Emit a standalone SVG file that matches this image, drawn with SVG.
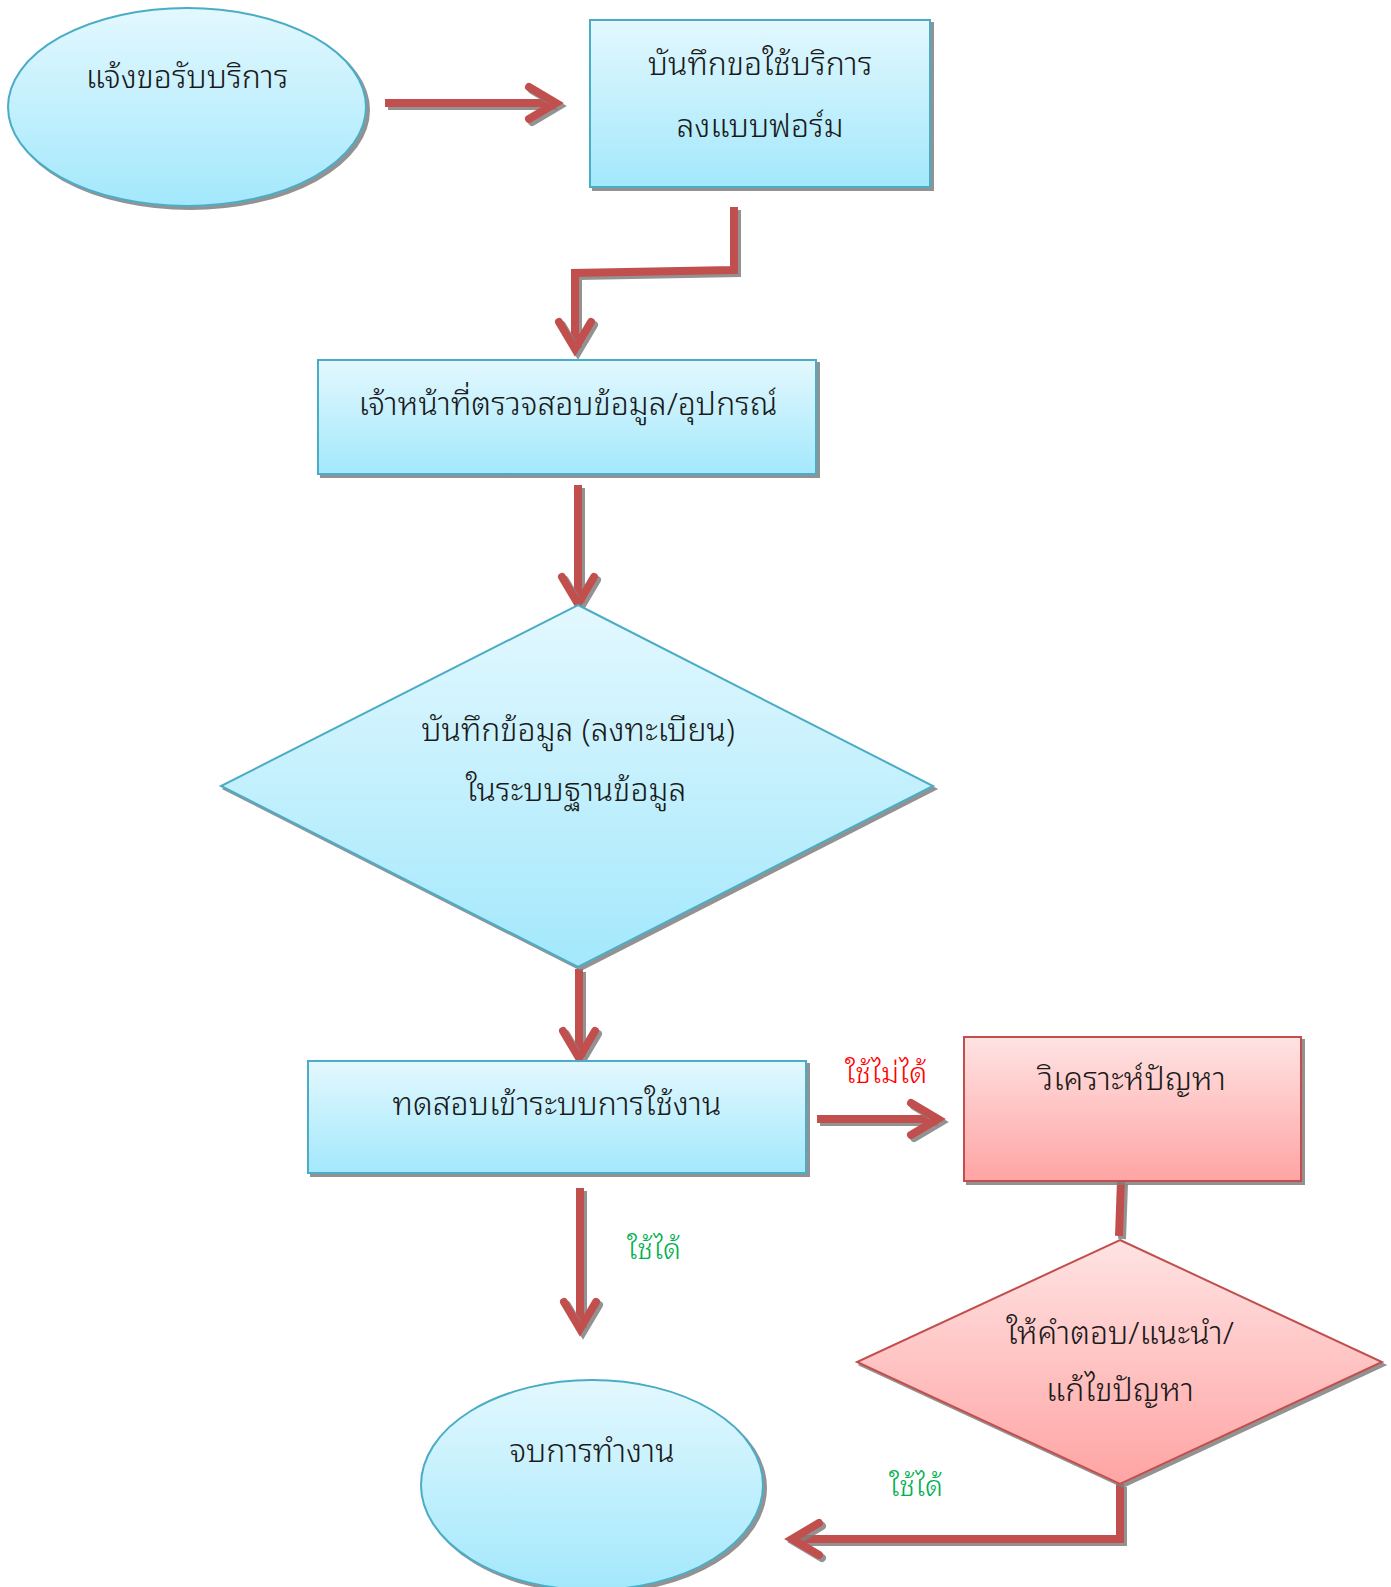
<svg xmlns="http://www.w3.org/2000/svg" width="1391" height="1587" viewBox="0 0 1391 1587">
<defs>
<linearGradient id="gb" x1="0" y1="0" x2="0" y2="1"><stop offset="0" stop-color="#e3f8fe"/><stop offset="1" stop-color="#a3e8fc"/></linearGradient>
<linearGradient id="gp" x1="0" y1="0" x2="0" y2="1"><stop offset="0" stop-color="#ffe3e3"/><stop offset="1" stop-color="#ffa4a4"/></linearGradient>
<filter id="sh" filterUnits="userSpaceOnUse" x="0" y="0" width="1391" height="1587"><feDropShadow dx="3" dy="3" stdDeviation="0.6" flood-color="#7f7f7f" flood-opacity="0.85"/></filter>
<style>
.b{fill:url(#gb);stroke:#4bacc6;stroke-width:2;filter:url(#sh)}
.p{fill:url(#gp);stroke:#c0504d;stroke-width:2;filter:url(#sh)}
.t{font-family:"Noto Sans Thai Looped","Noto Sans Thai","Noto Sans","DejaVu Sans",sans-serif;font-size:32px;font-weight:300;fill:#1a1a1a;text-anchor:middle}
.c{fill:none;stroke:#c0504d;stroke-width:8;filter:url(#sh)}
.h{fill:none;stroke:#c0504d;stroke-width:8;stroke-linecap:round;stroke-linejoin:miter;filter:url(#sh)}
.g{font-family:"Noto Sans Thai Looped","Noto Sans Thai","Noto Sans","DejaVu Sans",sans-serif;font-size:29px;font-weight:300;fill:#00b050;text-anchor:middle}
.r{font-family:"Noto Sans Thai Looped","Noto Sans Thai","Noto Sans","DejaVu Sans",sans-serif;font-size:29px;font-weight:300;fill:#ff0000;text-anchor:middle}
</style>
</defs>
<g id="connectors">
<path class="c" d="M385 103H554"/><path class="h" d="M529 87L556 103L529 119"/>
<path class="c" d="M734 207V270L575 273V345"/><path class="h" d="M559 322L575 349L591 322"/>
<path class="c" d="M578 485V600"/><path class="h" d="M562 577L578 604L594 577"/>
<path class="c" d="M579 969V1054"/><path class="h" d="M563 1031L579 1058L595 1031"/>
<path class="c" d="M817 1119H935"/><path class="h" d="M911 1103L938 1119L911 1135"/>
<path class="c" d="M580 1188V1325"/><path class="h" d="M564 1302L580 1329L596 1302"/>
<path class="c" d="M1121 1181L1119 1236"/>
<path class="c" d="M1120 1484V1539H796"/><path class="h" d="M819 1523L792 1539L819 1555"/>
<text class="r" x="886" y="1083">ใช้ไม่ได้</text>
<text class="g" x="654" y="1259">ใช้ได้</text>
<text class="g" x="916" y="1496">ใช้ได้</text>
</g>
<g id="n1"><ellipse class="b" cx="187" cy="107" rx="179" ry="99"/><text class="t" x="187" y="88">แจ้งขอรับบริการ</text></g>
<g id="n2"><rect class="b" x="590" y="20" width="340" height="167"/><text class="t" x="760" y="75">บันทึกขอใช้บริการ</text><text class="t" x="760" y="137">ลงแบบฟอร์ม</text></g>
<g id="n3"><rect class="b" x="318" y="360" width="498" height="114"/><text class="t" x="568" y="415">เจ้าหน้าที่ตรวจสอบข้อมูล/อุปกรณ์</text></g>
<g id="n4"><polygon class="b" points="578,605 933,786 578,967 221,786"/><text class="t" x="578" y="741">บันทึกข้อมูล (ลงทะเบียน)</text><text class="t" x="576" y="801">ในระบบฐานข้อมูล</text></g>
<g id="n5"><rect class="b" x="308" y="1061" width="498" height="112"/><text class="t" x="557" y="1115">ทดสอบเข้าระบบการใช้งาน</text></g>
<g id="n6"><rect class="p" x="964" y="1037" width="337" height="144"/><text class="t" x="1132" y="1090">วิเคราะห์ปัญหา</text></g>
<g id="n7"><polygon class="p" points="1120,1240 1382,1362 1120,1484 857,1362"/><text class="t" x="1120" y="1344">ให้คำตอบ/แนะนำ/</text><text class="t" x="1120" y="1401">แก้ไขปัญหา</text></g>
<g id="n8"><ellipse class="b" cx="592" cy="1485" rx="171" ry="105"/><text class="t" x="592" y="1462">จบการทำงาน</text></g>
</svg>
